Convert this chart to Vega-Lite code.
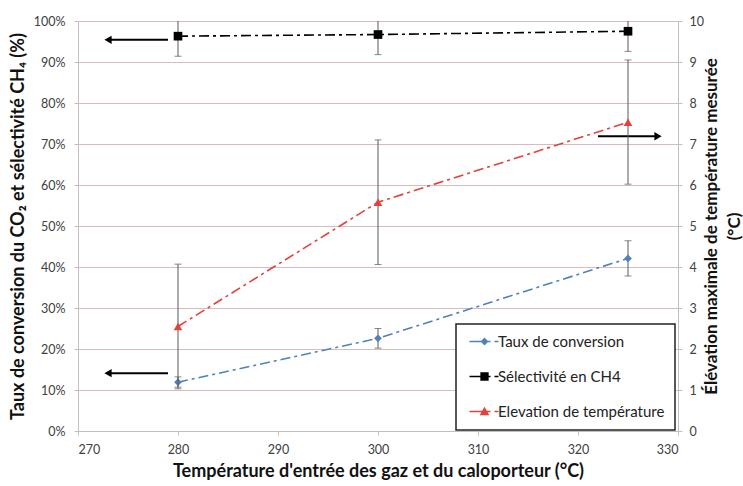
{
  "$schema": "https://vega.github.io/schema/vega-lite/v6.json",
  "width": 600,
  "height": 410,
  "autosize": {"type": "none"},
  "padding": {"left": 78, "top": 21, "right": 65, "bottom": 55},
  "background": "white",
  "config": {
    "font": "Lato",
    "view": {"stroke": null},
    "legend": {"strokeWidth": 1.5},
    "axis": {
      "labelFont": "Lato",
      "labelFontSize": 12.5,
      "labelColor": "#404040",
      "titleFont": "Lato",
      "titleFontSize": 18,
      "titleFontWeight": "bold",
      "titleColor": "#111111",
      "domainColor": "#bfbfbf",
      "tickColor": "#bfbfbf",
      "tickSize": 4,
      "grid": false
    }
  },
  "datasets": {
    "pts": [
      {"series": "Taux de conversion", "x": 280, "y": 11.9, "lo": 10.7, "hi": 13.2},
      {"series": "Taux de conversion", "x": 300, "y": 22.6, "lo": 20.2, "hi": 25.0},
      {"series": "Taux de conversion", "x": 325, "y": 42.1, "lo": 37.8, "hi": 46.4},
      {"series": "Sélectivité en CH4", "x": 280, "y": 96.3, "lo": 91.4, "hi": 101.2},
      {"series": "Sélectivité en CH4", "x": 300, "y": 96.7, "lo": 91.8, "hi": 101.6},
      {"series": "Sélectivité en CH4", "x": 325, "y": 97.5, "lo": 92.6, "hi": 102.4}
    ],
    "temp": [
      {"series": "Elevation de température", "x": 280, "y": 2.55, "lo": 1.03, "hi": 4.07},
      {"series": "Elevation de température", "x": 300, "y": 5.58, "lo": 4.06, "hi": 7.1},
      {"series": "Elevation de température", "x": 325, "y": 7.53, "lo": 6.02, "hi": 9.05}
    ],
    "keys": [
      {"series": "Taux de conversion"},
      {"series": "Sélectivité en CH4"},
      {"series": "Elevation de température"}
    ],
    "arrows": [
      {"dir": "left", "x": 279.0, "x2": 273.2, "head": 273.0, "y": 95.4},
      {"dir": "left", "x": 279.0, "x2": 273.2, "head": 273.0, "y": 14.1},
      {"dir": "right", "x": 322.0, "x2": 327.8, "head": 328.0, "y": 71.9}
    ]
  },
  "layer": [
    {
      "layer": [
        {
          "data": {"name": "keys"},
          "mark": {"type": "point", "filled": true, "opacity": 0, "size": 100, "strokeWidth": 1.3},
          "encoding": {
            "fill": {"field": "series", "type": "nominal",
              "scale": {"domain": ["Taux de conversion", "Sélectivité en CH4", "Elevation de température"], "range": ["#4f81bd", "#000000", "#e3413a"]},
              "legend": {
                "orient": "none", "legendX": 378, "legendY": 303, "title": null,
                "padding": 10, "symbolOffset": 11, "labelOffset": 6, "rowPadding": 19, "labelLimit": 400,
                "labelFontSize": 15, "labelFont": "Lato", "labelColor": "#222222",
                "fillColor": "white", "strokeColor": "#222222", "symbolSize": 100,
                "symbolStrokeWidth": 1.3, "symbolOpacity": 1
              }},
            "stroke": {"field": "series", "type": "nominal",
              "scale": {"domain": ["Taux de conversion", "Sélectivité en CH4", "Elevation de température"], "range": ["#4f81bd", "#000000", "#e3413a"]},
              "legend": {
                "orient": "none", "legendX": 378, "legendY": 303, "title": null,
                "padding": 10, "symbolOffset": 11, "labelOffset": 6, "rowPadding": 19, "labelLimit": 400,
                "labelFontSize": 15, "labelFont": "Lato", "labelColor": "#222222",
                "fillColor": "white", "strokeColor": "#222222", "symbolSize": 100,
                "symbolStrokeWidth": 1.3, "symbolOpacity": 1
              }},
            "shape": {"field": "series", "type": "nominal",
              "scale": {"domain": ["Taux de conversion", "Sélectivité en CH4", "Elevation de température"],
                "range": ["M-3,0H1.2M2,0H2.8M0,-0.6L0.6,0L0,0.6L-0.6,0Z", "M-3,0H1.2M2,0H2.8M-0.7,-0.7H0.7V0.7H-0.7Z", "M-3,0H1.2M2,0H2.8M0,-0.7L0.75,0.6H-0.75Z"]},
              "legend": {
                "orient": "none", "legendX": 378, "legendY": 303, "title": null,
                "padding": 10, "symbolOffset": 11, "labelOffset": 6, "rowPadding": 19, "labelLimit": 400,
                "labelFontSize": 15, "labelFont": "Lato", "labelColor": "#222222",
                "fillColor": "white", "strokeColor": "#222222", "symbolSize": 100,
                "symbolStrokeWidth": 1.3, "symbolOpacity": 1
              }}
          }
        },
        {
          "data": {"name": "pts"},
          "mark": {"type": "rule", "color": "#595959", "strokeWidth": 1, "clip": true},
          "encoding": {
            "x": {"field": "x", "type": "quantitative", "scale": {"domain": [270, 330]},
              "axis": {"title": "Température d'entrée des gaz et du caloporteur (°C)", "values": [270, 280, 290, 300, 310, 320, 330], "labelPadding": 8, "titlePadding": 7}},
            "y": {"field": "lo", "type": "quantitative", "scale": {"domain": [0, 100]},
              "axis": {"title": "Taux de conversion du CO₂ et sélectivité CH₄ (%)", "values": [0, 10, 20, 30, 40, 50, 60, 70, 80, 90, 100], "labelExpr": "datum.value + '%'", "grid": true, "gridColor": "#d6bcbc", "labelPadding": 9, "titlePadding": 6}},
            "y2": {"field": "hi"}
          }
        },
        {
          "data": {"name": "pts"},
          "mark": {"type": "tick", "orient": "horizontal", "color": "#595959", "thickness": 1, "size": 7, "clip": true},
          "encoding": {
            "x": {"field": "x", "type": "quantitative"},
            "y": {"field": "lo", "type": "quantitative"}
          }
        },
        {
          "data": {"name": "pts"},
          "mark": {"type": "tick", "orient": "horizontal", "color": "#595959", "thickness": 1, "size": 7, "clip": true},
          "encoding": {
            "x": {"field": "x", "type": "quantitative"},
            "y": {"field": "hi", "type": "quantitative"}
          }
        },
        {
          "data": {"name": "pts"},
          "mark": {"type": "line", "strokeWidth": 1.6, "strokeDash": [10, 4, 3, 4]},
          "encoding": {
            "x": {"field": "x", "type": "quantitative"},
            "y": {"field": "y", "type": "quantitative"},
            "stroke": {"field": "series", "type": "nominal"}
          }
        },
        {
          "data": {"name": "pts"},
          "transform": [{"filter": "datum.series === 'Taux de conversion'"}],
          "mark": {"type": "point", "shape": "diamond", "filled": true, "color": "#4f81bd", "opacity": 1, "size": 60},
          "encoding": {
            "x": {"field": "x", "type": "quantitative"},
            "y": {"field": "y", "type": "quantitative"}
          }
        },
        {
          "data": {"name": "pts"},
          "transform": [{"filter": "datum.series !== 'Taux de conversion'"}],
          "mark": {"type": "point", "shape": "square", "filled": true, "color": "#000000", "opacity": 1, "size": 75},
          "encoding": {
            "x": {"field": "x", "type": "quantitative"},
            "y": {"field": "y", "type": "quantitative"}
          }
        },
        {
          "data": {"name": "arrows"},
          "mark": {"type": "rule", "color": "black", "strokeWidth": 2},
          "encoding": {
            "x": {"field": "x", "type": "quantitative"},
            "x2": {"field": "x2"},
            "y": {"field": "y", "type": "quantitative"}
          }
        },
        {
          "data": {"name": "arrows"},
          "transform": [{"filter": "datum.dir === 'left'"}],
          "mark": {"type": "point", "shape": "triangle-left", "filled": true, "color": "black", "opacity": 1, "size": 70},
          "encoding": {
            "x": {"field": "head", "type": "quantitative"},
            "y": {"field": "y", "type": "quantitative"}
          }
        },
        {
          "data": {"name": "arrows"},
          "transform": [{"filter": "datum.dir === 'right'"}],
          "mark": {"type": "point", "shape": "triangle-right", "filled": true, "color": "black", "opacity": 1, "size": 70},
          "encoding": {
            "x": {"field": "head", "type": "quantitative"},
            "y": {"field": "y", "type": "quantitative"}
          }
        }
      ]
    },
    {
      "data": {"name": "temp"},
      "layer": [
        {
          "mark": {"type": "rule", "color": "#595959", "strokeWidth": 1},
          "encoding": {
            "x": {"field": "x", "type": "quantitative"},
            "y": {"field": "lo", "type": "quantitative", "scale": {"domain": [0, 10]},
              "axis": {"orient": "right", "title": ["Élévation maximale de température mesurée", "(°C)"], "values": [0, 1, 2, 3, 4, 5, 6, 7, 8, 9, 10], "titleAngle": 270, "titleLineHeight": 23, "titleFontSize": 17, "labelPadding": 7, "titlePadding": -6}},
            "y2": {"field": "hi"}
          }
        },
        {
          "mark": {"type": "tick", "orient": "horizontal", "color": "#595959", "thickness": 1, "size": 7},
          "encoding": {
            "x": {"field": "x", "type": "quantitative"},
            "y": {"field": "lo", "type": "quantitative"}
          }
        },
        {
          "mark": {"type": "tick", "orient": "horizontal", "color": "#595959", "thickness": 1, "size": 7},
          "encoding": {
            "x": {"field": "x", "type": "quantitative"},
            "y": {"field": "hi", "type": "quantitative"}
          }
        },
        {
          "mark": {"type": "line", "strokeWidth": 1.6, "strokeDash": [10, 4, 3, 4]},
          "encoding": {
            "x": {"field": "x", "type": "quantitative"},
            "y": {"field": "y", "type": "quantitative"},
            "stroke": {"field": "series", "type": "nominal"}
          }
        },
        {
          "mark": {"type": "point", "shape": "triangle-up", "filled": true, "color": "#e3413a", "opacity": 1, "size": 75},
          "encoding": {
            "x": {"field": "x", "type": "quantitative"},
            "y": {"field": "y", "type": "quantitative"}
          }
        }
      ]
    }
  ],
  "resolve": {"scale": {"y": "independent"}, "axis": {"y": "independent"}}
}
